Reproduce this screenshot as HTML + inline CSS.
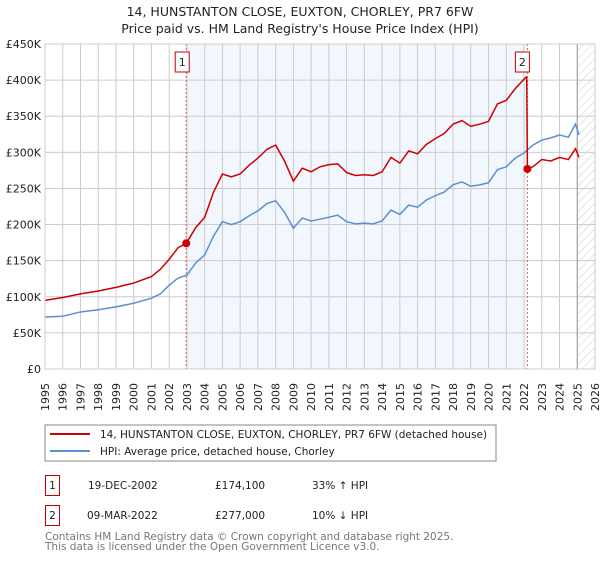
<!DOCTYPE html>
<html><head><meta charset="utf-8"><style>
body{margin:0;background:#fff;font-family:"DejaVu Sans","Liberation Sans",sans-serif;}
svg text{font-family:"DejaVu Sans","Liberation Sans",sans-serif;}
</style></head><body>
<svg id="c" width="600" height="560" xmlns="http://www.w3.org/2000/svg">
<defs><pattern id="hatch" width="6" height="6" patternUnits="userSpaceOnUse" patternTransform="rotate(45)"><line x1="0" y1="0" x2="0" y2="6" stroke="#ccc" stroke-width="1"/></pattern></defs>
<text x="300" y="16" text-anchor="middle" font-size="12.5" fill="#222">14, HUNSTANTON CLOSE, EUXTON, CHORLEY, PR7 6FW</text>
<text x="300" y="33" text-anchor="middle" font-size="12.5" fill="#222">Price paid vs. HM Land Registry's House Price Index (HPI)</text>
<g id="plot"></g>
<rect x="45" y="425" width="451" height="36" fill="#fff" stroke="#888"/>
<line x1="50" y1="434" x2="90" y2="434" stroke="#cc0000" stroke-width="2"/>
<text x="100" y="438" font-size="10.5" fill="#222">14, HUNSTANTON CLOSE, EUXTON, CHORLEY, PR7 6FW (detached house)</text>
<line x1="50" y1="451" x2="90" y2="451" stroke="#5b8fd0" stroke-width="2"/>
<text x="100" y="455" font-size="10.5" fill="#222">HPI: Average price, detached house, Chorley</text>
<g>
<rect x="45.5" y="475.5" width="14" height="20" fill="#fff" stroke="#cc0000"/>
<text x="52.5" y="489" text-anchor="middle" font-size="10.5" fill="#222">1</text>
<text x="88" y="489" font-size="10.5" fill="#222">19-DEC-2002</text>
<text x="215" y="489" font-size="10.5" fill="#222">£174,100</text>
<text x="312" y="489" font-size="10.5" fill="#222">33% ↑ HPI</text></g>
<g>
<rect x="45.5" y="505.5" width="14" height="20" fill="#fff" stroke="#cc0000"/>
<text x="52.5" y="519" text-anchor="middle" font-size="10.5" fill="#222">2</text>
<text x="87" y="519" font-size="10.5" fill="#222">09-MAR-2022</text>
<text x="215" y="519" font-size="10.5" fill="#222">£277,000</text>
<text x="312" y="519" font-size="10.5" fill="#222">10% ↓ HPI</text></g>
<text x="45" y="540" font-size="10.5" fill="#777">Contains HM Land Registry data © Crown copyright and database right 2025.</text>
<text x="45" y="550" font-size="10.5" fill="#777">This data is licensed under the Open Government Licence v3.0.</text>
</svg>
<script>
const hpiYears=[1995,1996,1997,1998,1999,2000,2001,2001.5,2002,2002.5,2003,2003.5,2004,2004.5,2005,2005.5,2006,2006.5,2007,2007.5,2008,2008.5,2009,2009.5,2010,2010.8,2011.5,2012,2012.5,2013,2013.5,2014,2014.5,2015,2015.5,2016,2016.5,2017,2017.5,2018,2018.5,2019,2019.5,2020,2020.5,2021,2021.5,2022,2022.5,2023,2023.5,2024,2024.5,2024.9,2025.1];
const hpiValues=[72000,73000,79000,82000,86000,91000,98000,104000,116000,126000,130000,147000,158000,184000,204000,200000,204000,212000,219000,229000,233000,217000,195000,209000,205000,209000,213000,204000,201000,202000,201000,205000,220000,214000,227000,224000,234000,240000,245000,255000,259000,253000,255000,258000,276000,280000,292000,299000,310000,317000,320000,324000,321000,339000,324000];
const propYears=[1995,1996,1997,1998,1999,2000,2001,2001.5,2002,2002.5,2002.96,2003.5,2004,2004.5,2005,2005.5,2006,2006.5,2007,2007.5,2008,2008.5,2009,2009.5,2010,2010.5,2011,2011.5,2012,2012.5,2013,2013.5,2014,2014.5,2015,2015.5,2016,2016.5,2017,2017.5,2018,2018.5,2019,2019.5,2020,2020.5,2021,2021.5,2022.1,2022.15,2022.19,2022.5,2023,2023.5,2024,2024.5,2024.9,2025.1];
const propValues=[95000,99000,104000,108000,113000,119000,128000,138000,152000,168000,174100,196000,210000,245000,270000,266000,270000,282000,292000,304000,310000,288000,260000,278000,273000,280000,283000,284000,272000,268000,269000,268000,273000,293000,285000,302000,298000,311000,319000,326000,339000,344000,336000,339000,343000,367000,372000,388000,404000,404000,277000,280000,290000,288000,293000,290000,305000,293000];
const saleYears=[2002.96,2022.19];
const saleValues=[174100,277000];
const yTicks=[0,50000,100000,150000,200000,250000,300000,350000,400000,450000];
const yTickLabels=["£0","£50K","£100K","£150K","£200K","£250K","£300K","£350K","£400K","£450K"];
const xTicks=[1995,1996,1997,1998,1999,2000,2001,2002,2003,2004,2005,2006,2007,2008,2009,2010,2011,2012,2013,2014,2015,2016,2017,2018,2019,2020,2021,2022,2023,2024,2025,2026];

const X0=45,X1=595,Y0=369,Y1=44;
const xs=y=>X0+(y-1995)/(2026-1995)*(X1-X0);
const ys=v=>Y0-v/450000*(Y0-Y1);
const NS="http://www.w3.org/2000/svg";
const g=document.getElementById('plot');
function mk(t,a){const e=document.createElementNS(NS,t);for(const k in a)e.setAttribute(k,a[k]);g.appendChild(e);return e;}
let e;
e=mk('rect',{x:xs(saleYears[0]),y:Y1,width:xs(saleYears[1])-xs(saleYears[0]),height:Y0-Y1,fill:'#eef3fc',opacity:0.75});


e=mk('rect',{x:xs(2025),y:Y1,width:X1-xs(2025),height:Y0-Y1,fill:'url(#hatch)'});


xTicks.forEach((t,i)=>{
 e=mk('line',{x1:xs(t),x2:xs(t),y1:Y1,y2:Y0,stroke:'#ccc','stroke-width':1});
 
 
 const tx=xs(t)+4, ty=Y0+14;
 e=mk('text',{x:tx,y:ty,'text-anchor':'end','font-size':11,fill:'#222',transform:'rotate(-90 '+tx+' '+ty+')'});
 e.textContent=t;
 
 
});
yTicks.forEach((t,i)=>{
 e=mk('line',{x1:X0,x2:X1,y1:ys(t),y2:ys(t),stroke:'#ccc','stroke-width':1});
 
 
 e=mk('text',{x:X0-4,y:ys(t)+4,'text-anchor':'end','font-size':11,fill:'#222'});
 e.textContent=yTickLabels[i];
 
 
});
e=mk('line',{x1:xs(2025),x2:xs(2025),y1:Y1,y2:Y0,stroke:'#999','stroke-width':1});


saleYears.forEach((s,i)=>{
 e=mk('line',{x1:xs(s),x2:xs(s),y1:Y1,y2:Y0,stroke:'#e06060','stroke-width':1,'stroke-dasharray':'2,2'});
 
 
});
e=mk('polyline',{points:hpiYears.map((y,i)=>xs(y)+','+ys(hpiValues[i])).join(' '),fill:'none',stroke:'#5b8fd0','stroke-width':1.5});


e=mk('polyline',{points:propYears.map((y,i)=>xs(y)+','+ys(propValues[i])).join(' '),fill:'none',stroke:'#cc0000','stroke-width':1.5});


saleYears.forEach((s,i)=>{
 e=mk('circle',{cx:xs(s),cy:ys(saleValues[i]),r:4,fill:'#cc0000'});
 
 
 const bx=xs(s)-(i==0?4:5);
 e=mk('rect',{x:bx-7,y:52,width:14,height:20,fill:'#fff',stroke:'#cc0000'});
 
 
 e=mk('text',{x:bx,y:66,'text-anchor':'middle','font-size':11,fill:'#222'});
 e.textContent=String(i+1);
 
 
});
e=mk('rect',{x:X0,y:Y1,width:X1-X0,height:Y0-Y1,fill:'none',stroke:'#ccc'});


</script>
</body></html>
